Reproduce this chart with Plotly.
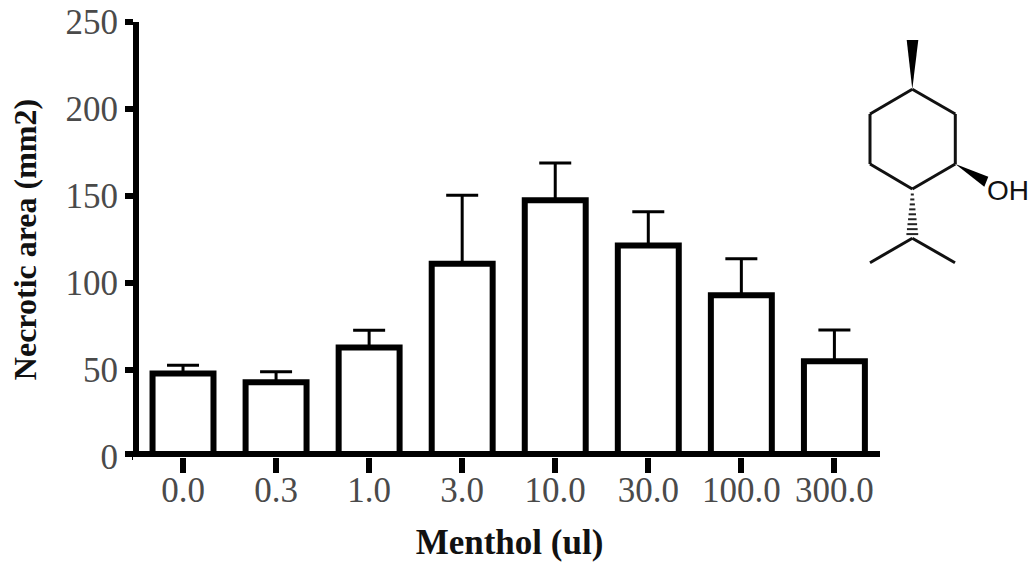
import plotly.graph_objects as go

categories = ["0.0", "0.3", "1.0", "3.0", "10.0", "30.0", "100.0", "300.0"]
area_mean = [48, 43, 63, 111, 147.5, 121.5, 93, 55]
area_sem = [4.7, 6, 9.8, 39.4, 21.5, 19.5, 21, 18]
y_ticks = [0, 50, 100, 150, 200, 250]

W, H = 1028, 562
L, R, T, B = 139, 880, 22, 457
SERIF = "Liberation Serif"


def px(x):
    return (x - L) / (R - L)


def py(y):
    return (B - y) / (B - T)


def seg(x0, y0, x1, y1, w=3, color="#111111"):
    return dict(type="line", xref="paper", yref="paper", x0=px(x0), y0=py(y0), x1=px(x1), y1=py(y1),
                line=dict(color=color, width=w), layer="above")


def poly(points, color="black"):
    d = "M " + " L ".join(f"{px(x):.5f},{py(y):.5f}" for x, y in points) + " Z"
    return dict(type="path", xref="paper", yref="paper", path=d, fillcolor=color, line=dict(width=0), layer="above")


ring = [(912.3, 89.3), (955.3, 114), (955.3, 164), (912.3, 189), (870, 164), (870, 114), (912.3, 89.3)]
shapes = [seg(120, 458.7, 132, 458.7, w=3.6, color="white"), seg(125, 454, 880, 454, w=6, color="black")]
shapes += [seg(*ring[i], *ring[i + 1]) for i in range(6)]
shapes += [seg(912.3, 238.3, 870, 262.7), seg(912.3, 238.3, 955, 262.7)]
shapes += [poly([(912.3, 89.3), (906.7, 40), (918.3, 40)]), poly([(955.3, 164), (988.3, 176.7), (984.3, 186.7)])]
for i in range(9):
    yh = 194.5 + i * 4.95
    half = 1.5 + i * 0.55
    shapes.append(seg(912.3 - half, yh, 912.3 + half, yh, w=2, color="#222222"))

fig = go.Figure(go.Bar(
    x=categories, y=area_mean, width=0.655,
    marker=dict(color="white", line=dict(color="black", width=6)),
    error_y=dict(type="data", symmetric=False, array=area_sem, arrayminus=[0] * 8,
                 color="black", thickness=3, width=16),
))
fig.update_layout(
    width=W, height=H, autosize=False, showlegend=False,
    margin=dict(l=L, r=W - R, t=T, b=H - B, pad=0),
    paper_bgcolor="white", plot_bgcolor="white",
    bargap=0.345, shapes=shapes,
    xaxis=dict(
        type="category", range=[-0.473, 7.49], showgrid=False, zeroline=False, showline=False,
        ticks="outside", ticklen=15, tickwidth=6, tickcolor="black", ticklabelstandoff=-13,
        tickfont=dict(family=SERIF, size=35, color="#4a4a4a"),
        title=dict(text="<b>Menthol (ul)</b>", font=dict(family=SERIF, size=35, color="#111111"), standoff=33),
        automargin=False,
    ),
    yaxis=dict(
        range=[0, 250], tickvals=y_ticks, showgrid=False, zeroline=False,
        showline=True, linewidth=6, linecolor="black",
        ticks="outside", ticklen=8, tickwidth=6, tickcolor="black",
        tickfont=dict(family=SERIF, size=35, color="#4a4a4a"),
        title=dict(text="<b>Necrotic area (mm2)</b>", font=dict(family=SERIF, size=32, color="#111111"), standoff=21),
        automargin=False,
    ),
    annotations=[dict(text="OH", xref="paper", yref="paper", x=px(985), y=py(190), xanchor="left", yanchor="middle",
                      showarrow=False, font=dict(family="Liberation Sans", size=28, color="#111111"))],
)
fig.write_html("out.html", config={"displayModeBar": False},
               post_script="document.body.style.margin='0';document.documentElement.style.overflow='hidden';")
